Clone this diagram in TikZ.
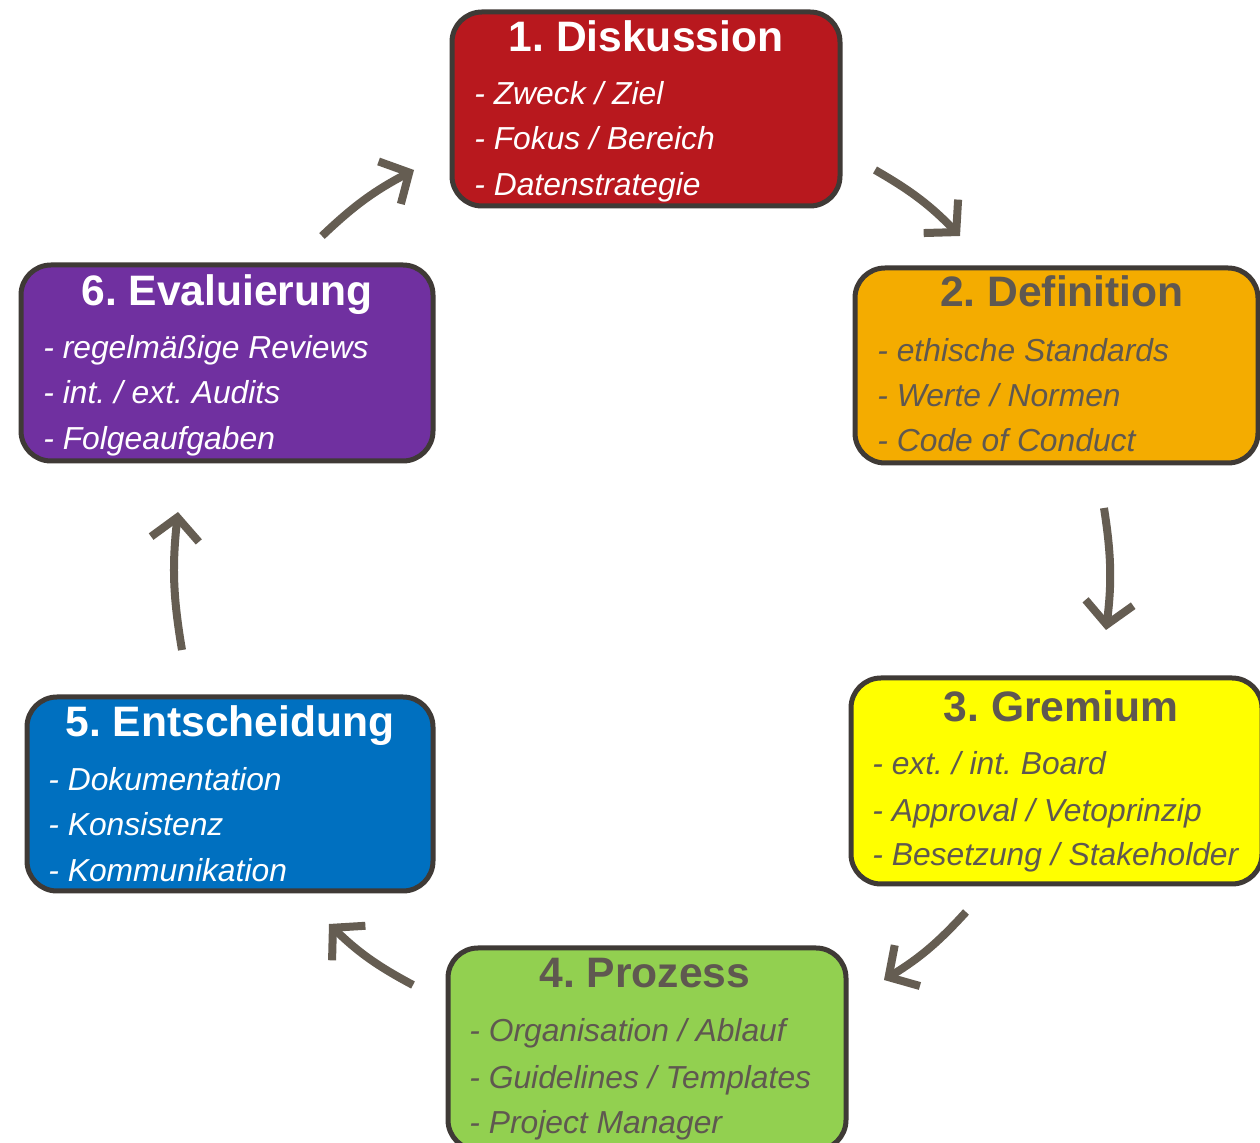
\documentclass[tikz,border=0pt]{standalone}
\usepackage{fontspec}
\setmainfont{Liberation Sans}
\usetikzlibrary{arrows.meta}
\definecolor{cRed}{HTML}{B8181E}
\definecolor{cOrange}{HTML}{F4AC00}
\definecolor{cYellow}{HTML}{FFFF00}
\definecolor{cGreen}{HTML}{92D050}
\definecolor{cBlue}{HTML}{0070C0}
\definecolor{cPurple}{HTML}{7030A0}
\definecolor{cBorder}{HTML}{3F3A36}
\definecolor{cGreyText}{HTML}{5F5850}
\definecolor{cArrow}{HTML}{655D52}
\frenchspacing
\begin{document}
\begin{tikzpicture}[x=0.5pt,y=-0.5pt,
  box/.style={draw=cBorder,line width=2.5pt,rounded corners=15pt,inner sep=0pt},
  ttl/.style={anchor=base,inner sep=0pt,font=\fontsize{21.3}{25}\selectfont\bfseries},
  itm/.style={anchor=base west,inner sep=0pt,font=\fontsize{15.9}{19}\selectfont\itshape},
  flow/.style={draw=cArrow,line width=4pt,-{Straight Barb[length=11pt,width=24pt]}}]
\clip (0,0) rectangle (1260,1143);
\fill[white] (0,0) rectangle (1260,1143);

% boxes
\node[box,fill=cRed,minimum width=194pt,minimum height=97pt] (b1) at (646,109) {};
\node[box,fill=cOrange,minimum width=201.5pt,minimum height=97.5pt] (b2) at (1056.5,365.5) {};
\node[box,fill=cYellow,minimum width=205.5pt,minimum height=103pt] (b3) at (1056.5,781) {};
\node[box,fill=cGreen,minimum width=199pt,minimum height=101pt] (b4) at (647,1049) {};
\node[box,fill=cBlue,minimum width=203pt,minimum height=97pt] (b5) at (230,794) {};
\node[box,fill=cPurple,minimum width=206pt,minimum height=98pt] (b6) at (227,363) {};

% box 1
\node[ttl,text=white] (t1) at (646,52) {1. Diskussion};
\node[itm,text=white] (t1a) at (474,105) {- Zweck / Ziel};
\node[itm,text=white] (t1b) at (474,150) {- Fokus / Bereich};
\node[itm,text=white] (t1c) at (474,196) {- Datenstrategie};
% box 2
\node[ttl,text=cGreyText] (t2) at (1062,307) {2. Definition};
\node[itm,text=cGreyText] (t2a) at (877,362) {- ethische Standards};
\node[itm,text=cGreyText] (t2b) at (877,407) {- Werte / Normen};
\node[itm,text=cGreyText] (t2c) at (877,452) {- Code of Conduct};
% box 3
\node[ttl,text=cGreyText] (t3) at (1061,722) {3. Gremium};
\node[itm,text=cGreyText] (t3a) at (872,775) {- ext. / int. Board};
\node[itm,text=cGreyText] (t3b) at (872,822) {- Approval / Vetoprinzip};
\node[itm,text=cGreyText] (t3c) at (872,866) {- Besetzung / Stakeholder};
% box 4
\node[ttl,text=cGreyText] (t4) at (645,988) {4. Prozess};
\node[itm,text=cGreyText] (t4a) at (469,1042) {- Organisation / Ablauf};
\node[itm,text=cGreyText] (t4b) at (469,1089) {- Guidelines / Templates};
\node[itm,text=cGreyText] (t4c) at (469,1134) {- Project Manager};
% box 5
\node[ttl,text=white] (t5) at (230,737) {5. Entscheidung};
\node[itm,text=white] (t5a) at (48,791) {- Dokumentation};
\node[itm,text=white] (t5b) at (48,836) {- Konsistenz};
\node[itm,text=white] (t5c) at (48,882) {- Kommunikation};
% box 6
\node[ttl,text=white] (t6) at (227,306) {6. Evaluierung};
\node[itm,text=white] (t6a) at (43,359) {- regelmäßige Reviews};
\node[itm,text=white] (t6b) at (43,404) {- int. / ext. Audits};
\node[itm,text=white] (t6c) at (43,450) {- Folgeaufgaben};

% arrow end points
\coordinate (a1s) at (322,236); \coordinate (a1e) at (414,170);
\coordinate (a2s) at (875,170); \coordinate (a2e) at (960,236);
\coordinate (a3s) at (1104,508); \coordinate (a3e) at (1106,630);
\coordinate (a4s) at (966,912); \coordinate (a4e) at (884,980);
\coordinate (a5s) at (413,985); \coordinate (a5e) at (329,924);
\coordinate (a6s) at (182,650); \coordinate (a6e) at (178,512);

\draw[flow] (a1s) to[bend left=8] (a1e);
\draw[flow] (a2s) to[bend left=8] (a2e);
\draw[flow] (a3s) to[bend left=8] (a3e);
\draw[flow] (a4s) to[bend left=8] (a4e);
\draw[flow] (a5s) to[bend left=8] (a5e);
\draw[flow] (a6s) to[bend left=8] (a6e);
\end{tikzpicture}
\end{document}
